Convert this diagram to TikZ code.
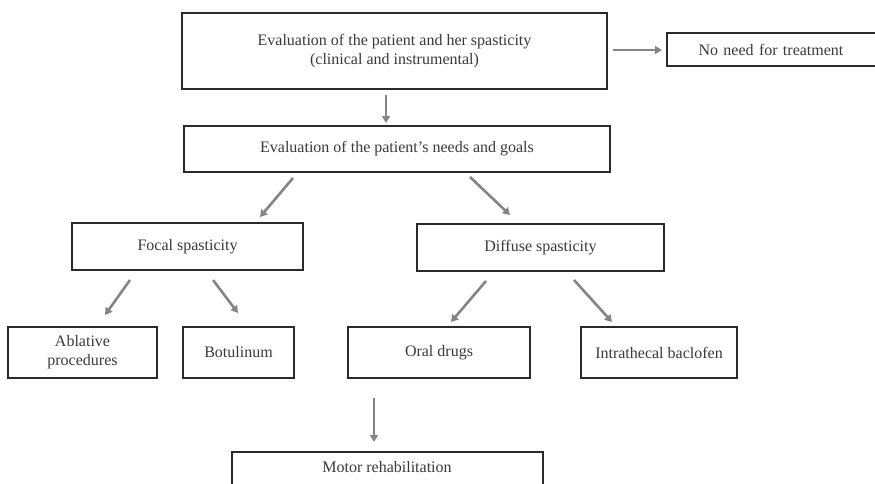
\documentclass[tikz,border=0pt]{standalone}
\usepackage{fontspec}
\setmainfont{Liberation Serif}
\usetikzlibrary{arrows.meta}
\definecolor{boxline}{HTML}{2A2A2A}
\definecolor{txt}{HTML}{3A3A3A}
\definecolor{arr}{HTML}{858585}
\tikzset{
  box/.style={draw=boxline, line width=2.8pt, fill=white, text=txt, align=center,
    font=\fontsize{16}{19}\selectfont, inner sep=0pt, anchor=center},
  conn/.style={draw=arr, line width=2.6pt, -{Triangle[length=7pt,width=8pt]}}
}
\begin{document}
\begin{tikzpicture}[x=1pt,y=-1pt]
\useasboundingbox (0,0) rectangle (875,483);
\clip (0,0) rectangle (875,483);
% boxes
\node[box, minimum width=425pt, minimum height=76pt] (top) at (394.5,51) {Evaluation of the patient and her spasticity\\(clinical and instrumental)};
\node[box, minimum width=218pt, minimum height=33pt, text width=208pt] (none) at (776,49.5) {\hspace*{-10pt}No need for treatment\hspace*{0pt}};
\node[box, minimum width=426pt, minimum height=46pt] (needs) at (397,149) {Evaluation of the patient's needs and goals};
\node[box, minimum width=231pt, minimum height=47pt] (focal) at (187.5,246.5) {Focal spasticity};
\node[box, minimum width=247pt, minimum height=47pt] (diffuse) at (540.5,247.5) {Diffuse spasticity};
\node[box, minimum width=149pt, minimum height=51pt] (ablative) at (82.5,352.5) {Ablative\\procedures};
\node[box, minimum width=111pt, minimum height=51pt] (botulinum) at (238.5,352.5) {Botulinum};
\node[box, minimum width=182pt, minimum height=51pt] (oral) at (439,352.5) {Oral drugs};
\node[box, minimum width=156pt, minimum height=51pt] (intra) at (659,352.5) {Intrathecal baclofen};
\node[box, minimum width=311pt, minimum height=44pt] (motor) at (387.5,474) {};
\node[text=txt, font=\fontsize{16}{19}\selectfont] (motortext) at (387,467) {Motor rehabilitation};
% connector ends
\coordinate (a1s) at (613,50);  \coordinate (a1e) at (662,50);
\coordinate (a2s) at (386,95);  \coordinate (a2e) at (386,123);
\coordinate (a3s) at (293,178); \coordinate (a3e) at (260,217);
\coordinate (a4s) at (470,177); \coordinate (a4e) at (510,215);
\coordinate (a5s) at (130,280); \coordinate (a5e) at (105,315);
\coordinate (a6s) at (213,280); \coordinate (a6e) at (238,313);
\coordinate (a7s) at (486,281); \coordinate (a7e) at (451,322);
\coordinate (a8s) at (574,280); \coordinate (a8e) at (612,322);
\coordinate (a9s) at (374,398); \coordinate (a9e) at (374,442);
% connectors
\draw[conn] (a1s) -- (a1e);
\draw[conn] (a2s) -- (a2e);
\draw[conn] (a3s) -- (a3e);
\draw[conn] (a4s) -- (a4e);
\draw[conn] (a5s) -- (a5e);
\draw[conn] (a6s) -- (a6e);
\draw[conn] (a7s) -- (a7e);
\draw[conn] (a8s) -- (a8e);
\draw[conn] (a9s) -- (a9e);
\end{tikzpicture}
\end{document}
